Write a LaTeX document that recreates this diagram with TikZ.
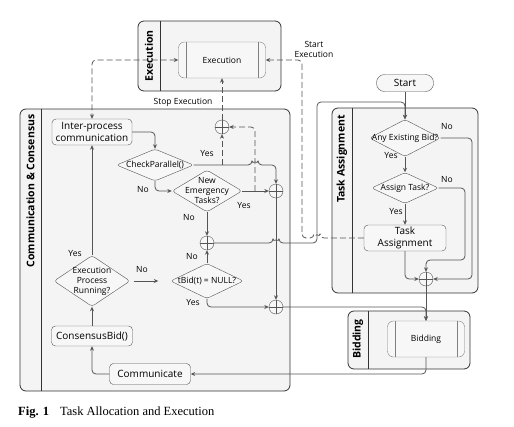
\documentclass[tikz,border=0pt]{standalone}
\usepackage{fontspec}
\setmainfont{Open Sans}
\newfontfamily\capfont{Liberation Serif}
\usetikzlibrary{shapes,calc,arrows.meta}
\definecolor{linegray}{HTML}{555555}
\definecolor{lanegray}{HTML}{F4F4F4}
\definecolor{boxgray}{HTML}{F7F7F7}

\begin{document}
\begin{tikzpicture}[x=1pt,y=-1pt,>={Stealth[length=4.5pt,width=4pt]}]%% task allocation
                \tikzstyle{lane}      = [draw=black!80, fill=lanegray, rounded corners=6pt, line width=0.8pt]
                \tikzstyle{lanetitle} = [rotate=90, inner sep=0pt, font=\fontsize{10.5}{12}\selectfont\bfseries]
                \tikzstyle{box}       = [draw=linegray, fill=boxgray, rounded corners=4pt, align=center, inner sep=1pt, font=\fontsize{10}{12.5}\selectfont]
                \tikzstyle{process}   = [draw=gray, fill=boxgray, rounded corners=6pt, font=\fontsize{8.5}{10}\selectfont]
                \tikzstyle{decision}  = [diamond, draw=linegray, fill=boxgray, inner sep=0pt, rounded corners=3pt]
                \tikzstyle{dtext}     = [align=center, inner sep=0pt, font=\fontsize{8.5}{10}\selectfont]
                \tikzstyle{merge}     = [circle, draw=linegray, fill=boxgray, minimum size=14pt, inner sep=0pt]
                \tikzstyle{flow}      = [draw=linegray, line width=0.8pt, rounded corners=4pt, ->]
                \tikzstyle{signal}    = [flow, dash pattern=on 6pt off 3pt]
                \tikzstyle{tag}       = [inner sep=0pt, align=center, font=\fontsize{8.5}{10}\selectfont]
                \useasboundingbox (0,0) rectangle (514,426);

                % swimlanes
                \draw [lane] (138,21) rectangle (281,91);
                \draw [lane] (20,109) rectangle (290,391);
                \draw [lane] (332,108) rectangle (478,293);
                \draw [lane] (348,311) rectangle (470,369);
                \draw [black!80, line width=0.8pt] (160,21)--(160,91) (41,109)--(41,391) (352,108)--(352,293) (368,311)--(368,369);
                \node [lanetitle](tExec) at (149,56) {Execution};
                \node [lanetitle](tComm) at (30.5,191) {Communication \& Consensus};
                \node [lanetitle](tTask) at (342,159) {Task Assignment};
                \node [lanetitle](tBid) at (358,339) {Bidding};

                % nodes
                \node [process, minimum width=87pt, minimum height=36pt](exec) at (222,60) {Execution};
                \node [process, minimum width=77pt, minimum height=36pt](bid) at (426,339) {Bidding};
                \foreach \p in {exec,bid}{
                        \draw [gray] ($(\p.north west)+(8,0)$)--($(\p.south west)+(8,0)$);
                        \draw [gray] ($(\p.north east)+(-8,0)$)--($(\p.south east)+(-8,0)$);
                }
                \node [box, rounded corners=8pt, minimum width=57pt, minimum height=17pt](start) at (405,83) {Start};
                \node [decision, minimum width=71pt, minimum height=37pt, label={[dtext]center:Any Existing Bid?}](anybid) at (405,138) {};
                \node [decision, minimum width=67pt, minimum height=31pt, label={[dtext]center:Assign Task?}](assign) at (405,188) {};
                \node [box, minimum width=82pt, minimum height=26pt](taskasg) at (405,238) {Task\\Assignment};
                \node [box, minimum width=80pt, minimum height=26pt](ipc) at (92,132) {Inter-process\\communication};
                \node [decision, minimum width=77pt, minimum height=32pt, label={[dtext]center:CheckParallel()}](check) at (155,165) {};
                \node [decision, minimum width=70pt, minimum height=42pt, label={[dtext]center:New\\Emergency\\Tasks?}](newem) at (207,191) {};
                \node [decision, minimum width=73pt, minimum height=35pt, label={[dtext]center:tBid(t) = NULL?}](tbid) at (207,281) {};
                \node [decision, minimum width=76pt, minimum height=51pt, label={[dtext]center:Execution\\Process\\Running?}](running) at (92,281) {};
                \node [box, minimum width=81pt, minimum height=20pt](cbid) at (92,336) {ConsensusBid()};
                \node [box, minimum width=81pt, minimum height=21pt](comm) at (150,374) {Communicate};
                \foreach \m/\x/\y in {mstop/222/127, m1/207/243, m2/276/191, m3/276/307, mt/426/279}{
                        \node [merge](\m) at (\x,\y) {};
                        \draw [linegray] (\m.north)--(\m.south) (\m.west)--(\m.east);
                }

                % task assignment and bidding
                \draw [flow] (start)--(anybid);
                \draw [flow] (anybid)--(assign);
                \draw [flow] (assign)--(taskasg);
                \draw [flow] (anybid.east)--(472,138)--(472,279)--(mt.east);
                \draw [flow] (assign.east)--(465,188)--(465,260)-|(mt.north);
                \draw [flow] (taskasg.south)|-(mt.west);
                \draw [flow] (mt.south)--(bid.north);
                \draw [flow] (m3.east)-|(bid.north);
                \draw [flow] (bid.south)|-(comm.east);

                % communication and consensus
                \draw [flow] (comm.west)-|(cbid.south);
                \draw [flow] (cbid)--(running);
                \draw [flow] (running)--(ipc);
                \draw [flow, shorten <=4pt, shorten >=12pt] (running.east)--(tbid.west);
                \draw [flow] (ipc.east)-|(check.north);
                \draw [flow] (check.south)|-(newem.west);
                \draw [flow] (check.east)--(252,165) arc[start angle=180, end angle=360, radius=3]-|(m2.north);
                \draw [flow] (newem.east)--(m2.west);
                \draw [flow] (newem)--(m1);
                \draw [flow] (tbid)--(m1);
                \draw [flow] (tbid.south)|-(m3.west);
                \draw [flow] (m2.south)--(m3.north);
                \draw [flow] (m1.east)--(273,243) arc[start angle=180, end angle=360, radius=3]--(317,243)--(317,102)-|(anybid.north);

                % execution signals
                \coordinate (cpyes) at (222,165);
                \coordinate (neyes) at (255,191);
                \draw [signal] (cpyes)--(mstop.south);
                \draw [signal] (neyes)|-(mstop.east);
                \draw [signal] (mstop.north)--(exec.south);
                \draw [signal] (taskasg.west)--(320,238) arc[start angle=0, end angle=-180, radius=3]--(302,238)--(302,60)--(exec.east);
                \draw [signal, <->] (exec.west)-|(ipc.north);

                % labels
                \node [tag](l1) at (391,156) {Yes};
                \node [tag](l2) at (447,127) {No};
                \node [tag](l3) at (396,212) {Yes};
                \node [tag](l4) at (447,180) {No};
                \node [tag](l5) at (207,154) {Yes};
                \node [tag](l6) at (143,190) {No};
                \node [tag](l7) at (244,206) {Yes};
                \node [tag](l8) at (189,218) {No};
                \node [tag](l9) at (192,257) {No};
                \node [tag](l10) at (193,303) {Yes};
                \node [tag](l11) at (75,254) {Yes};
                \node [tag](l12) at (142,270) {No};
                \node [tag](l13) at (314,49) {Start\\Execution};
                \node [tag](l14) at (183,102) {Stop Execution};

                \node [anchor=base west, inner sep=0pt, font=\capfont\fontsize{12.5}{14}\selectfont](caption) at (18,415) {\textbf{Fig. 1}\hspace{11pt}Task Allocation and Execution};
\end{tikzpicture}
\end{document}
